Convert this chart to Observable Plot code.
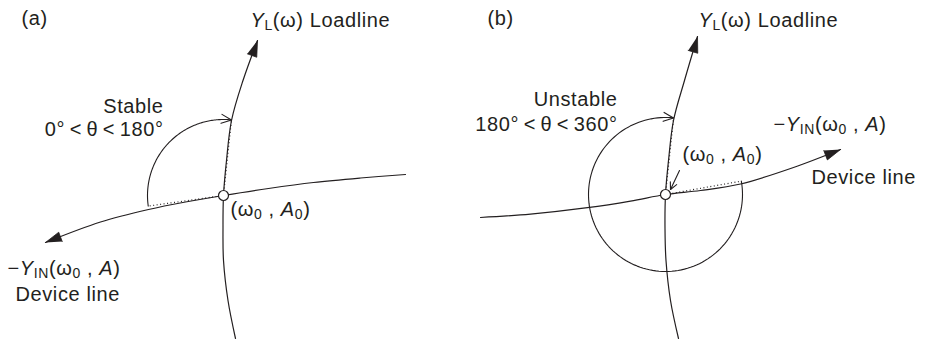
<!DOCTYPE html>
<html><head><meta charset="utf-8">
<script src="https://cdn.jsdelivr.net/npm/d3@7"></script>
<script src="https://cdn.jsdelivr.net/npm/@observablehq/plot@0.6"></script>
<style>
html,body{margin:0;padding:0;background:#fff;}
#chart svg{display:block;}
</style>
</head><body><div id="chart"></div>
<script>
// Diagram coordinates (x to the right, y downward)
const loadlineA = [[235,338],[227.5,300],[223,260],[222.5,228],[223,195],[226,160],[231,120],[242.5,80],[257,40]];
const deviceA   = [[405,174],[360,177.5],[313,182],[268,188],[223,195],[185,201.5],[148,209],[100,221.5],[45,242]];
const loadlineB = [[678,338],[670,300],[665.5,260],[664.5,228],[665,194],[668,160],[673,120],[684,80],[697,36]];
const deviceB   = [[480,217],[530,213.6],[587,207.2],[630,200.6],[665,194],[700,190],[740,183.5],[793,167],[840,149]];
const junctions = [[223,195],[665,194]];
const arcRadius = [76, 77];
const arcStartDeg = [172, 350];
const arcEndDeg = [276, 636];
const leaderB = [[679,170],[670,189]];

// Text labels (markup: *italic*, _subscript_)
const labelText = [
  "(a)", "*Y*_L_(ω) Loadline", "Stable", "0°\u2009<\u2009θ\u2009<\u2009180°", "(ω_0_ , *A*_0_)",
  "−*Y*_IN_(ω_0_ , *A*)", "Device line",
  "(b)", "*Y*_L_(ω) Loadline", "Unstable", "180°\u2009<\u2009θ\u2009<\u2009360°", "(ω_0_ , *A*_0_)",
  "−*Y*_IN_(ω_0_ , *A*)", "Device line"
];
const labelX = [21, 250, 163, 163, 230, 7, 15, 487, 698, 617, 617, 682, 773, 811];
const labelY = [24, 26, 112, 135, 215, 274, 300, 24, 26, 105, 130, 160, 130, 183];
const labelAnchor = ["start","start","end","end","start","start","start","start","start","end","end","start","start","start"];

const INK = "#231f20";

function triHead(pts, id, L = 16, W = 5) {
  const [x1, y1] = pts[pts.length - 2], [x2, y2] = pts[pts.length - 1];
  const len = Math.hypot(x2 - x1, y2 - y1), ux = (x2 - x1) / len, uy = (y2 - y1) / len, nx = -uy, ny = ux;
  return [
    {id, x: x2, y: y2},
    {id, x: x2 - L * ux + W * nx, y: y2 - L * uy + W * ny},
    {id, x: x2 - L * ux - W * nx, y: y2 - L * uy - W * ny}
  ];
}
function vHead(tip, ux, uy, id, L = 10, W = 4.5) {
  const nx = -uy, ny = ux;
  return [
    {id, x: tip[0] - L * ux + W * nx, y: tip[1] - L * uy + W * ny},
    {id, x: tip[0], y: tip[1]},
    {id, x: tip[0] - L * ux - W * nx, y: tip[1] - L * uy - W * ny}
  ];
}

const toRows = (pts, id) => pts.map(([x, y]) => ({id, x, y}));
const curveRows = [
  ...toRows(loadlineA, "la"), ...toRows(deviceA, "da"),
  ...toRows(loadlineB, "lb"), ...toRows(deviceB, "db")
];
const triRows = [
  ...triHead(loadlineA, "la"), ...triHead(deviceA, "da"),
  ...triHead(loadlineB, "lb"), ...triHead(deviceB, "db")
];

const arcRows = [], vRows = [], dotLinks = [];
junctions.forEach((c, k) => {
  const r = arcRadius[k], a0 = arcStartDeg[k], a1 = arcEndDeg[k];
  const n = 120;
  for (let i = 0; i <= n; i++) {
    const a = (a0 + (a1 - a0) * i / n) * Math.PI / 180;
    arcRows.push({id: "arc" + k, x: c[0] + r * Math.cos(a), y: c[1] + r * Math.sin(a)});
  }
  const ae = a1 * Math.PI / 180, as = a0 * Math.PI / 180;
  const tip = [c[0] + r * Math.cos(ae), c[1] + r * Math.sin(ae)];
  const s = Math.sign(a1 - a0);
  vRows.push(...vHead(tip, -Math.sin(ae) * s, Math.cos(ae) * s, "v" + k));
  dotLinks.push({x1: c[0], y1: c[1], x2: c[0] + r * Math.cos(as), y2: c[1] + r * Math.sin(as)});
  dotLinks.push({x1: c[0], y1: c[1], x2: tip[0], y2: tip[1]});
});
{
  const [p, q] = leaderB, len = Math.hypot(q[0] - p[0], q[1] - p[1]);
  vRows.push(...vHead(q, (q[0] - p[0]) / len, (q[1] - p[1]) / len, "lead", 7, 3.5));
}
const leaderRows = toRows(leaderB, "lead");
const junctionRows = junctions.map(([x, y]) => ({x, y}));
const labels = labelText.map((t, i) => ({t, x: labelX[i], y: labelY[i], a: labelAnchor[i]}));

const FONT = "'Liberation Sans', Arial, sans-serif";
const textOpts = a => ({x: "x", y: "y", text: "t", textAnchor: a, lineAnchor: "bottom",
  fontSize: 20, fontFamily: FONT, fill: INK});

const svg = Plot.plot({
  width: 928, height: 340, margin: 0,
  x: {domain: [0, 928], axis: null},
  y: {domain: [340, 0], axis: null},
  style: {background: "#fff", color: INK},
  marks: [
    Plot.link(dotLinks, {x1: "x1", y1: "y1", x2: "x2", y2: "y2", stroke: INK, strokeWidth: 1.2, strokeDasharray: "1,2.5"}),
    Plot.line(curveRows, {x: "x", y: "y", z: "id", curve: "catmull-rom", stroke: INK, strokeWidth: 1.2}),
    Plot.line(arcRows, {x: "x", y: "y", z: "id", stroke: INK, strokeWidth: 1.1}),
    Plot.line(leaderRows, {x: "x", y: "y", z: "id", stroke: INK, strokeWidth: 1.1}),
    Plot.line(vRows, {x: "x", y: "y", z: "id", stroke: INK, strokeWidth: 1.1, strokeLinejoin: "miter"}),
    Plot.line(triRows, {x: "x", y: "y", z: "id", fill: INK, stroke: INK, strokeWidth: 0.8, strokeLinejoin: "miter"}),
    Plot.dot(junctionRows, {x: "x", y: "y", r: 5, fill: "#fff", stroke: INK, strokeWidth: 1.2}),
    Plot.text(labels.filter(d => d.a === "start"), textOpts("start")),
    Plot.text(labels.filter(d => d.a === "end"), textOpts("end"))
  ]
});
svg.style.letterSpacing = "0.6px";

// rich text: *italic*, _subscript_
const NS = "http://www.w3.org/2000/svg";
svg.querySelectorAll("text").forEach(el => {
  const s = el.textContent;
  if (!/[*_]/.test(s)) return;
  el.textContent = "";
  let ital = false, sub = false, buf = "", pendingDy = 0;
  const flush = () => {
    if (!buf) return;
    const ts = document.createElementNS(NS, "tspan");
    ts.textContent = buf;
    if (ital) ts.setAttribute("font-style", "italic");
    if (sub) ts.setAttribute("font-size", "14");
    if (pendingDy) { ts.setAttribute("dy", pendingDy); pendingDy = 0; }
    el.appendChild(ts);
    buf = "";
  };
  for (const ch of s) {
    if (ch === "*") { flush(); ital = !ital; }
    else if (ch === "_") { flush(); sub = !sub; pendingDy += sub ? 3.5 : -3.5; }
    else buf += ch;
  }
  flush();
});

document.getElementById("chart").append(svg);
</script>
</body></html>
